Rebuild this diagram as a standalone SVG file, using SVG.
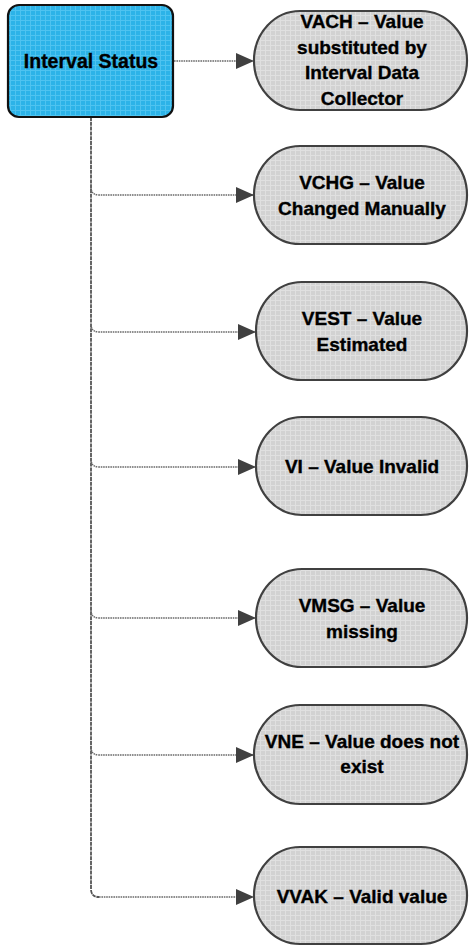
<svg xmlns="http://www.w3.org/2000/svg" width="470" height="946" viewBox="0 0 470 946">
<style>
.lbl{font-family:"Liberation Sans",Arial,sans-serif;font-weight:bold;font-size:19px;fill:#000;stroke:#000;stroke-width:0.35;text-anchor:middle}
.leaf{fill:url(#gray);stroke:#404040;stroke-width:2.2}
.root{fill:url(#blue);stroke:#111;stroke-width:2.2}
.trunk{fill:none;stroke:#555;stroke-width:1.8;stroke-dasharray:4 0.8}
.br{fill:none;stroke:#6a6a6a;stroke-width:1.4;stroke-dasharray:1.6 0.8;marker-end:url(#arr)}
</style>
<defs>
<pattern id="blue" width="5" height="5" patternUnits="userSpaceOnUse">
<rect width="5" height="5" fill="#2cb3e8"/>
<rect width="5" height="1" fill="#4ec3f0"/>
<rect width="1" height="5" fill="#4ec3f0"/>
</pattern>
<pattern id="gray" width="5" height="5" patternUnits="userSpaceOnUse">
<rect width="5" height="5" fill="#d2d2d2"/>
<rect width="5" height="1" fill="#e0e0e0"/>
<rect width="1" height="5" fill="#e0e0e0"/>
</pattern>
<marker id="arr" markerUnits="userSpaceOnUse" markerWidth="18" markerHeight="16" refX="18" refY="8" orient="auto">
<path d="M0,0 L18,8 L0,16 Z" fill="#404040"/>
</marker>
</defs>
<g id="connectors">
<path class="br" d="M174,61 L254,61"/>
<path class="trunk" d="M91,117 L91,889 Q91,897 99,897"/>
<path class="br" d="M99,897 L254,897"/>
<path class="br" d="M91,187 Q91,195 99,195 L254,195"/>
<path class="br" d="M91,324 Q91,332 99,332 L256,332"/>
<path class="br" d="M91,459 Q91,467 99,467 L256,467"/>
<path class="br" d="M91,610 Q91,618 99,618 L256,618"/>
<path class="br" d="M91,747 Q91,755 99,755 L254,755"/>
</g>
<g id="interval-status">
<rect class="root" x="8" y="5" width="165" height="112" rx="11"/>
<text class="lbl" x="91" y="67.5" style="font-size:19.5px">Interval Status</text>
</g>
<g id="vach">
<rect class="leaf" x="254" y="11" width="213" height="99" rx="46" ry="49.5"/>
<text class="lbl" x="362" y="28">VACH – Value</text>
<text class="lbl" x="362" y="53.5">substituted by</text>
<text class="lbl" x="362" y="79">Interval Data</text>
<text class="lbl" x="362" y="104.5">Collector</text>
</g>
<g id="vchg">
<rect class="leaf" x="254" y="146" width="213" height="98" rx="46" ry="49"/>
<text class="lbl" x="362" y="189">VCHG – Value</text>
<text class="lbl" x="362" y="215">Changed Manually</text>
</g>
<g id="vest">
<rect class="leaf" x="256" y="282" width="211" height="98" rx="46" ry="49"/>
<text class="lbl" x="362" y="325">VEST – Value</text>
<text class="lbl" x="362" y="351">Estimated</text>
</g>
<g id="vi">
<rect class="leaf" x="256" y="417" width="211" height="98" rx="46" ry="49"/>
<text class="lbl" x="362" y="473">VI – Value Invalid</text>
</g>
<g id="vmsg">
<rect class="leaf" x="256" y="569" width="211" height="98" rx="46" ry="49"/>
<text class="lbl" x="362" y="612">VMSG – Value</text>
<text class="lbl" x="362" y="638">missing</text>
</g>
<g id="vne">
<rect class="leaf" x="254" y="705" width="213" height="99" rx="46" ry="49.5"/>
<text class="lbl" x="362" y="748">VNE – Value does not</text>
<text class="lbl" x="362" y="773">exist</text>
</g>
<g id="vvak">
<rect class="leaf" x="254" y="847" width="213" height="97" rx="46" ry="48.5"/>
<text class="lbl" x="362" y="903">VVAK – Valid value</text>
</g>
</svg>
